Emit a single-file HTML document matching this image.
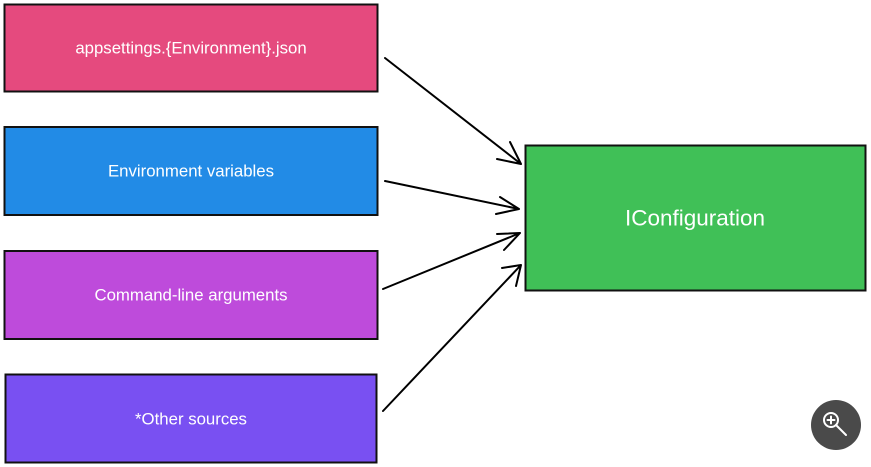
<!DOCTYPE html>
<html><head><meta charset="utf-8"><style>
html,body{margin:0;padding:0;background:#fff;width:871px;height:467px;overflow:hidden}
svg{display:block}
text{font-family:"Liberation Sans",sans-serif;fill:#fff;text-anchor:middle;dominant-baseline:central}
</style></head><body>
<svg width="871" height="467" viewBox="0 0 871 467" xmlns="http://www.w3.org/2000/svg">
<g stroke="#111" stroke-width="2">
<rect x="4.5" y="4.5" width="373" height="87" fill="#e54a7e"/>
<rect x="4.5" y="127" width="373" height="88" fill="#228be6"/>
<rect x="4.5" y="251" width="373" height="88" fill="#be4bdb"/>
<rect x="5.5" y="374.5" width="371" height="88" fill="#7950f2"/>
<rect x="525.5" y="145.5" width="340" height="145" fill="#40c057"/>
</g>
<text x="191" y="48" font-size="16.8">appsettings.{Environment}.json</text>
<text x="191" y="171" font-size="16.8">Environment variables</text>
<text x="191" y="295" font-size="16.8">Command-line arguments</text>
<text x="191" y="419" font-size="16.8">*Other sources</text>
<text x="695" y="218" font-size="22.5">IConfiguration</text>
<g stroke="#000" stroke-width="2" fill="none" stroke-linecap="round" stroke-linejoin="round">
<path d="M385 58 L521 164 M497 159 L521 164 L510 142"/>
<path d="M385 181 L519 209 M496 214 L519 209 L500 197"/>
<path d="M383 289 L520 233 M497 234 L520 233 L504 250"/>
<path d="M383 411 L521 265 M502 268 L521 265 L516 286"/>
</g>
<circle cx="836" cy="425" r="25" fill="#4a4a4a"/>
<g stroke="#fff" stroke-width="2" fill="none" stroke-linecap="round">
<circle cx="831" cy="420" r="7"/>
<path d="M836 425 L846 435 M827.5 420 H834.5 M831 416.5 V423.5"/>
</g>
</svg>
</body></html>
